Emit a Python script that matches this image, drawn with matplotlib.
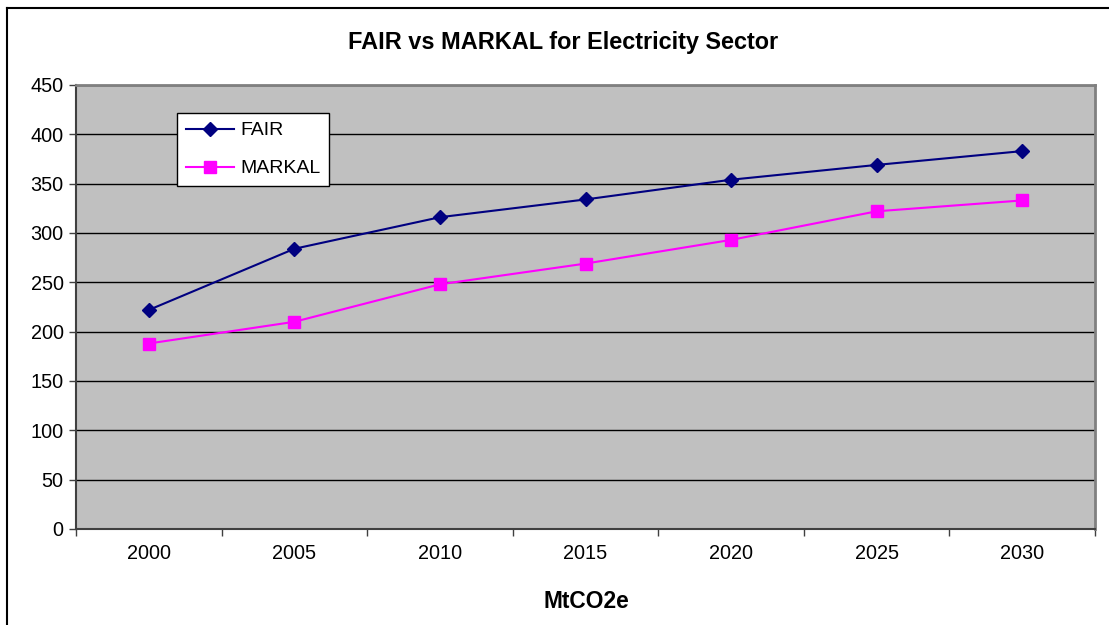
import matplotlib
matplotlib.use("Agg")
import matplotlib.pyplot as plt
from matplotlib.lines import Line2D
import numpy as np

plt.rcParams['font.family'] = ['Liberation Sans', 'DejaVu Sans']

years = ['2000', '2005', '2010', '2015', '2020', '2025', '2030']
fair = [222, 284, 316, 334, 354, 369, 383]
markal = [188, 210, 248, 269, 293, 322, 333]
y_ticks = [0, 50, 100, 150, 200, 250, 300, 350, 400, 450]

fig = plt.figure(figsize=(11.09, 6.25), dpi=100)
ax = fig.add_axes([76/1109, 1-529/625, (1095-76)/1109, (529-85)/625])
ax.set_facecolor('#C0C0C0')

x = np.arange(len(years))
ax.plot(x, fair, color='#000080', lw=1.5, marker='D', ms=7, label='FAIR', zorder=3)
ax.plot(x, markal, color='#FF00FF', lw=1.5, marker='s', ms=8.5, label='MARKAL', zorder=3)

ax.set_ylim(0, 450)
ax.set_yticks(y_ticks)
ax.set_xlim(-0.5, len(years) - 0.5)
ax.set_xticks(np.arange(-0.5, len(years), 1.0))
ax.set_xticklabels([])
ax.set_xticks(x, minor=True)
ax.set_xticklabels(years, minor=True)
ax.tick_params(axis='x', which='minor', length=0, pad=11, labelsize=14.3)
ax.tick_params(axis='x', which='major', length=5, width=1, color='#404040', direction='out')
ax.tick_params(axis='y', length=5, width=1, color='#404040', direction='out', labelsize=14.3, pad=4)

ax.yaxis.grid(True, color='black', lw=1)
ax.set_axisbelow(True)
for s in ['left', 'bottom']:
    ax.spines[s].set_color('#404040')
    ax.spines[s].set_linewidth(1.5)
for s in ['top', 'right']:
    ax.spines[s].set_color('#808080')
    ax.spines[s].set_linewidth(2)

fig.text(563/1109, 1-42/625, 'FAIR vs MARKAL for Electricity Sector', ha='center', va='center',
         fontsize=16.9, fontweight='bold')
fig.text(586/1109, 1-601/625, 'MtCO2e', ha='center', va='center', fontsize=16.4, fontweight='bold')

leg = ax.legend(loc='upper left', bbox_to_anchor=(177/1109, 1-113/625), bbox_transform=fig.transFigure,
                fancybox=False, framealpha=1, edgecolor='black', fontsize=14, handlelength=2.5,
                borderpad=0.45, labelspacing=1.05, handletextpad=0.3, borderaxespad=0)
leg.get_frame().set_linewidth(1)

# figure border (top and left visible)
fig.add_artist(Line2D([7/1109, 1], [1-8/625, 1-8/625], transform=fig.transFigure, color='black', lw=1.5))
fig.add_artist(Line2D([7/1109, 7/1109], [0, 1-8/625], transform=fig.transFigure, color='black', lw=1.5))

fig.savefig('out.png', dpi=100)
